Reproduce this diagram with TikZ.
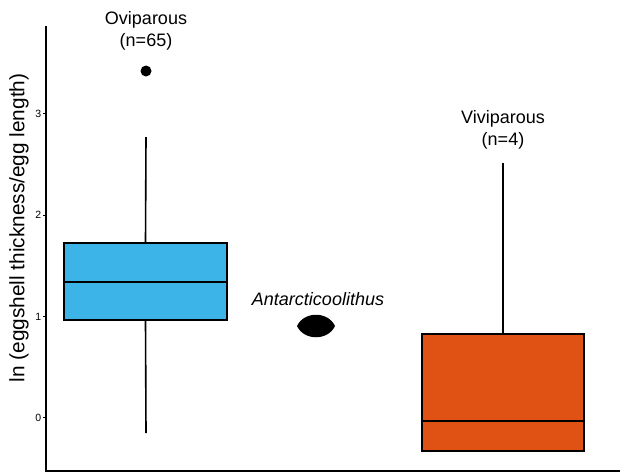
\documentclass[tikz,border=0pt]{standalone}
\usepackage{fontspec}
\setmainfont{Liberation Sans}
\definecolor{oviblue}{RGB}{61,180,232}
\definecolor{viviorange}{RGB}{224,82,20}
\begin{document}
\begin{tikzpicture}[x=1pt,y=1pt,
  boxplot/.style={draw=black,line width=1.6pt,inner sep=0pt},
  whisker/.style={line width=1.6pt},
  groupname/.style={align=center,inner sep=0pt,font=\fontsize{18}{22}\selectfont},
  ticklabel/.style={anchor=east,inner sep=0pt,font=\fontsize{10.5}{12}\selectfont}]
\useasboundingbox (0,0) rectangle (620,-474);
\draw [line width=1.6pt] (46,-26) -- (46,-471) -- (620,-471);
\foreach \v/\y in {0/-417.5,1/-316.5,2/-215,3/-113.5}{
  \draw [line width=0.8pt] (43,\y) -- (46,\y);
  \node [ticklabel] (tick\v) at (41.5,\y) {\v};
}
\node [rotate=90,font=\fontsize{20.8}{24}\selectfont] (ylabel) at (19,-228) {ln (eggshell thickness/egg length)};
\coordinate (ovitop) at (146,-137);
\coordinate (ovibot) at (146,-433);
\coordinate (ovimed) at (0,-282);
\coordinate (vivitop) at (503,-163);
\coordinate (vivimed) at (0,-421);
\node [boxplot,fill=oviblue,minimum width=163pt,minimum height=77pt] (ovibox) at (145.5,-281.5) {};
\node [boxplot,fill=viviorange,minimum width=162pt,minimum height=117pt] (vivibox) at (503,-392.5) {};
\draw [whisker] (ovibox.north) -- (ovitop);
\draw [whisker] (ovibox.south) -- (ovibot);
\draw [whisker] (ovibox.west |- ovimed) -- (ovibox.east |- ovimed);
\draw [whisker] (vivibox.north) -- (vivitop);
\draw [whisker] (vivibox.west |- vivimed) -- (vivibox.east |- vivimed);
\node [circle,fill=black,inner sep=0pt,minimum size=11pt] (outlier) at (146,-71) {};
\node [groupname] (ovilabel) at (146,-31) {Oviparous\\(n=65)};
\node [groupname] (vivilabel) at (503,-130) {Viviparous\\(n=4)};
\node [inner sep=0pt,font=\fontsize{18}{22}\selectfont\itshape] (antlabel) at (318,-299) {Antarcticoolithus};
\fill [black] (297,-326) .. controls (304,-311) and (328,-311) .. (335,-326)
  .. controls (328,-341) and (304,-341) .. (297,-326);
\end{tikzpicture}
\end{document}
